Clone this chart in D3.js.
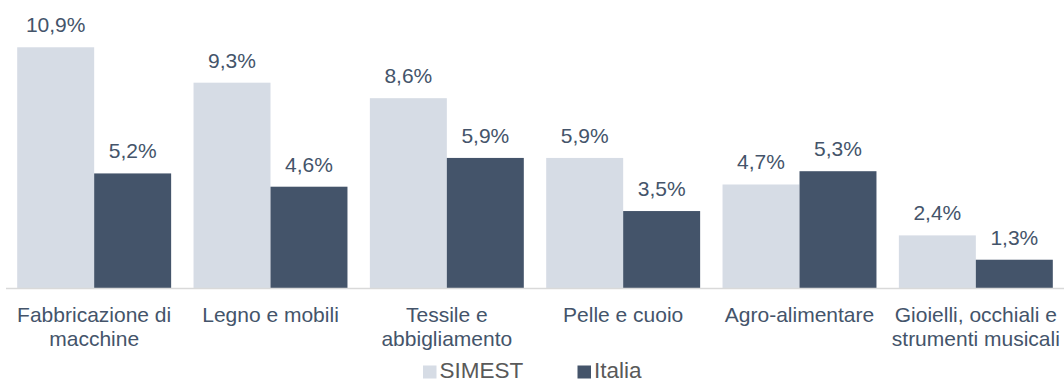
<!DOCTYPE html>
<html>
<head>
<meta charset="utf-8">
<script src="https://cdn.jsdelivr.net/npm/d3@7"></script>
<style>
  html, body { margin: 0; padding: 0; background: #fff; }
  svg { display: block; font-family: "Liberation Sans", Arial, sans-serif; }
</style>
</head>
<body>
<svg id="chart" width="1064" height="382"></svg>
<script>
// Sector shares: SIMEST portfolio vs. Italy overall (%)
const categories = [
  "Fabbricazione di\nmacchine",
  "Legno e mobili",
  "Tessile e\nabbigliamento",
  "Pelle e cuoio",
  "Agro-alimentare",
  "Gioielli, occhiali e\nstrumenti musicali"
];
const seriesNames = ["SIMEST", "Italia"];
const simestValues = [10.9, 9.3, 8.6, 5.9, 4.7, 2.4];
const italiaValues = [5.2, 4.6, 5.9, 3.5, 5.3, 1.3];
const seriesColors = ["#d6dce5", "#44546a"];
const textColor = "#44546a";

const svg = d3.select("#chart");
const baseline = 288.5;

const x0 = d3.scaleBand()
  .domain(categories)
  .range([6, 1064])
  .paddingInner(0.127)
  .paddingOuter(0.0635);

const x1 = d3.scaleBand()
  .domain(seriesNames)
  .range([0, x0.bandwidth()])
  .padding(0);

const y = d3.scaleLinear()
  .domain([0, 12])
  .range([baseline, baseline - 12 * 22.13]);

const color = d3.scaleOrdinal().domain(seriesNames).range(seriesColors);

const rows = categories.map((c, i) => ({
  category: c,
  values: [
    { series: "SIMEST", value: simestValues[i] },
    { series: "Italia", value: italiaValues[i] }
  ]
}));

const fmt = v => d3.format(".1f")(v).replace(".", ",") + "%";

const groups = svg.append("g").selectAll("g")
  .data(rows)
  .join("g")
  .attr("transform", d => `translate(${x0(d.category)},0)`);

groups.selectAll("rect")
  .data(d => d.values)
  .join("rect")
  .attr("x", d => x1(d.series))
  .attr("width", x1.bandwidth())
  .attr("y", d => y(d.value))
  .attr("height", d => baseline - y(d.value))
  .attr("fill", d => color(d.series));

groups.selectAll("text.value")
  .data(d => d.values)
  .join("text")
  .attr("class", "value")
  .attr("x", d => x1(d.series) + x1.bandwidth() / 2)
  .attr("y", d => y(d.value) - 15)
  .attr("text-anchor", "middle")
  .attr("font-size", 21)
  .attr("fill", textColor)
  .text(d => fmt(d.value));

// Category axis
const xAxis = svg.append("g")
  .attr("transform", `translate(0,${baseline})`)
  .call(d3.axisBottom(x0).tickSize(0).tickFormat(""));
xAxis.select(".domain").attr("stroke", "#d9d9d9").attr("stroke-width", 1.5)
  .attr("d", "M6,0H1064");

svg.append("g").selectAll("text")
  .data(categories)
  .join("text")
  .attr("x", d => x0(d) + x0.bandwidth() / 2)
  .attr("y", 321.5)
  .attr("text-anchor", "middle")
  .attr("font-size", 21)
  .attr("fill", textColor)
  .each(function(d) {
    const t = d3.select(this);
    d.split("\n").forEach((line, i) => {
      t.append("tspan")
        .attr("x", x0(d) + x0.bandwidth() / 2)
        .attr("dy", i === 0 ? 0 : 24.5)
        .text(line);
    });
  });

// Legend
const legendItems = [
  { name: "SIMEST", x: 423 },
  { name: "Italia", x: 577.5 }
];
const legend = svg.append("g").selectAll("g")
  .data(legendItems)
  .join("g")
  .attr("transform", d => `translate(${d.x},0)`);
legend.append("rect")
  .attr("x", 0).attr("y", 365.5)
  .attr("width", 13.5).attr("height", 13)
  .attr("fill", d => color(d.name));
legend.append("text")
  .attr("x", 16.5).attr("y", 377.5)
  .attr("font-size", 22.5)
  .attr("fill", "#595959")
  .text(d => d.name);
</script>
</body>
</html>
